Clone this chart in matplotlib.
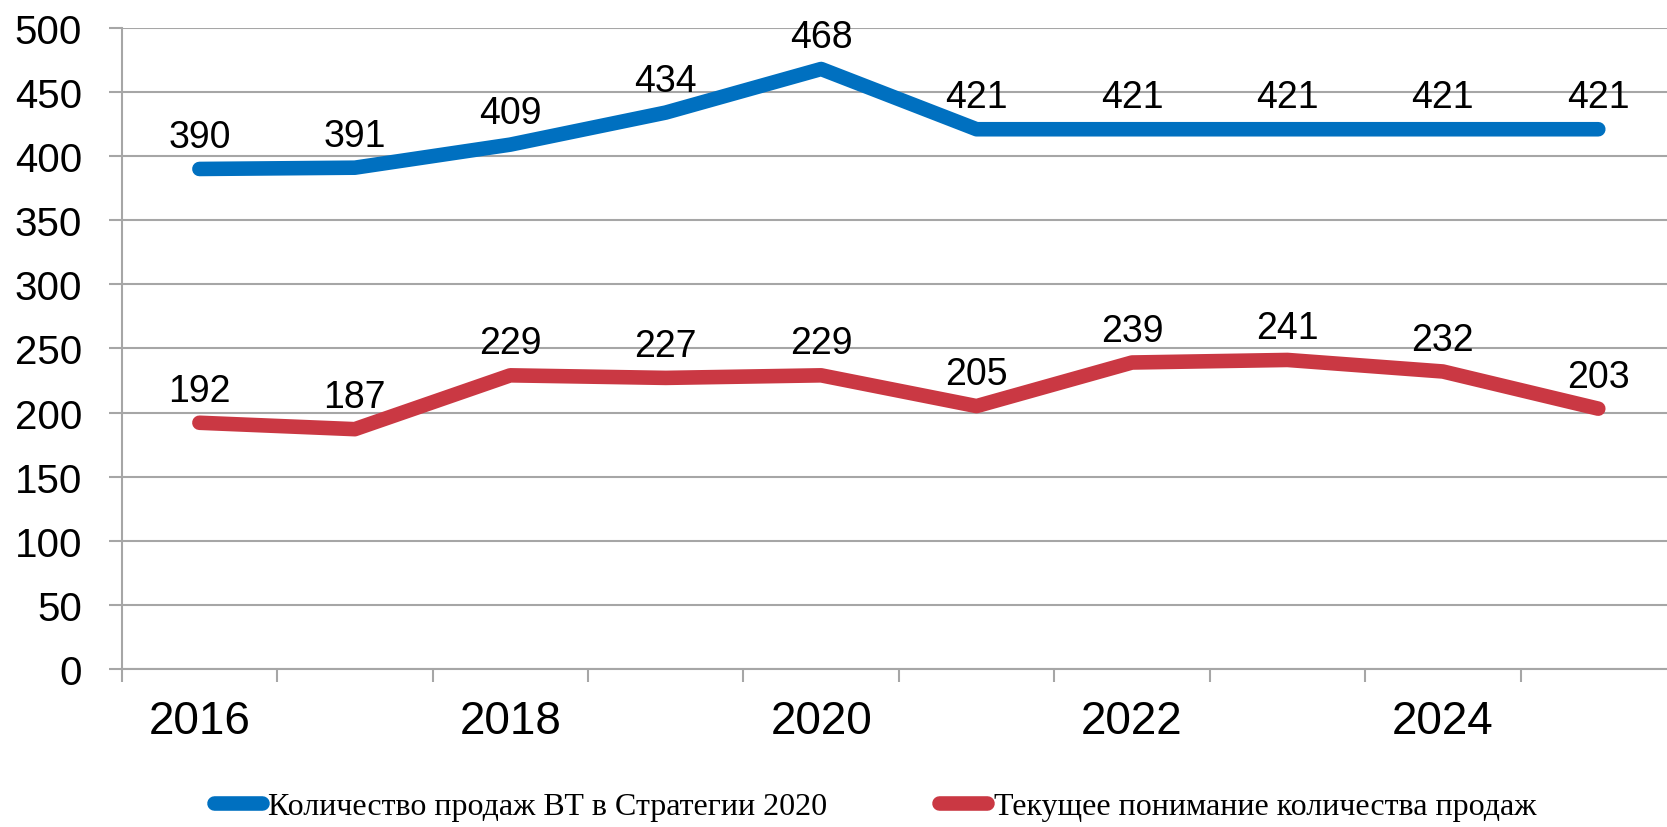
import numpy as np
import matplotlib.pyplot as plt

years = ['2016', '2017', '2018', '2019', '2020', '2021', '2022', '2023', '2024', '2025']
plan_2020 = [390, 391, 409, 434, 468, 421, 421, 421, 421, 421]
current = [192, 187, 229, 227, 229, 205, 239, 241, 232, 203]
series_names = ['Количество продаж ВТ в Стратегии 2020',
                'Текущее понимание количества продаж']
colors = ['#0070C0', '#CA3843']

fig = plt.figure(figsize=(16.67, 8.28), dpi=100)
ax = fig.add_axes([0.073, 0.191, 0.9324, 0.774])

x = np.arange(len(years))
for vals, name, c in zip([plan_2020, current], series_names, colors):
    ax.plot(x, vals, color=c, lw=10.5, solid_capstyle='round',
            solid_joinstyle='round', label=name, zorder=3)
    for xi, v in zip(x, vals):
        ax.annotate(str(v), (xi, v), xytext=(0, 23), textcoords='offset points',
                    ha='center', va='center', fontsize=27, family='Liberation Sans',
                    zorder=4)

ax.set_xlim(-0.5, 9.5)
ax.set_ylim(0, 500)
ax.set_yticks(np.arange(0, 501, 50))
ax.yaxis.grid(True, color='#A6A6A6', lw=1.5)
ax.set_axisbelow(True)

ax.set_xticks(x[::2])
ax.set_xticklabels(years[::2], fontsize=33, family='Liberation Sans')
ax.set_xticks(np.arange(-0.5, 10, 1), minor=True)
ax.tick_params(axis='x', which='major', length=0, pad=22)
ax.tick_params(axis='x', which='minor', length=9.5, width=1.5, color='#A6A6A6')
ax.tick_params(axis='y', length=9.5, width=1.5, color='#A6A6A6', labelsize=29, pad=19)
for lab in ax.get_yticklabels():
    lab.set_family('Liberation Sans')

for s in ['top', 'right']:
    ax.spines[s].set_visible(False)
for s in ['left', 'bottom']:
    ax.spines[s].set_color('#A6A6A6')
    ax.spines[s].set_linewidth(1.5)

fig.legend(loc='lower center', bbox_to_anchor=(0.525, -0.028), ncol=2, frameon=False,
           prop={'family': 'Liberation Serif', 'size': 23}, handlelength=1.5,
           handletextpad=0.2, columnspacing=3.5)

fig.savefig('out.png', dpi=100)
